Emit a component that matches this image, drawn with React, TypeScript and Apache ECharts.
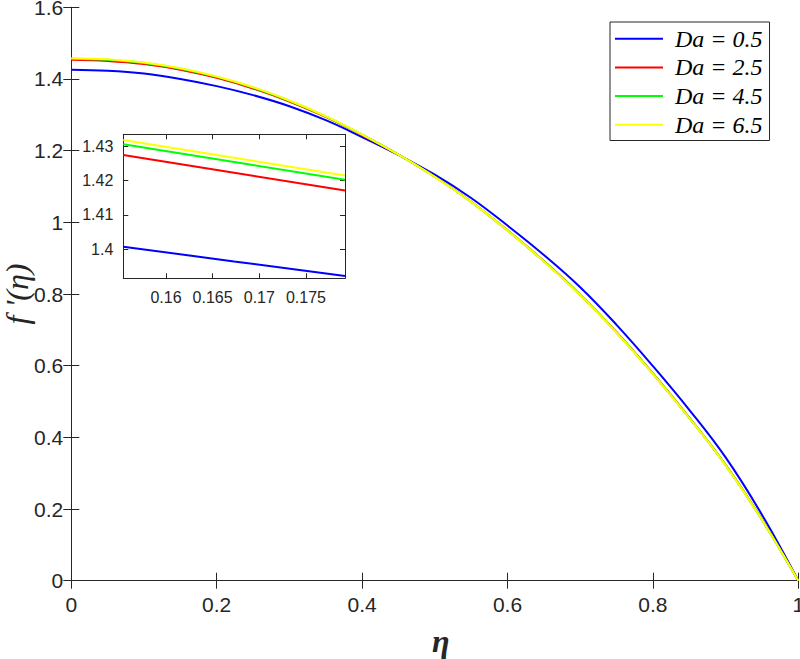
import React, { useEffect, useRef } from "react";
import * as echarts from "echarts";

const eta = [0, 0.05, 0.1, 0.15, 0.2, 0.25, 0.3, 0.35, 0.4, 0.45, 0.5, 0.55, 0.6, 0.65, 0.7, 0.75, 0.8, 0.85, 0.9, 0.95, 1];
const seriesNames = ["Da = 0.5", "Da = 2.5", "Da = 4.5", "Da = 6.5"];
const seriesColors = ["#0000ff", "#ff0000", "#00ff00", "#ffff00"];

const fDa05 = [1.426, 1.423, 1.415, 1.4, 1.38, 1.355, 1.324, 1.285, 1.238, 1.188, 1.133, 1.068, 0.991, 0.909, 0.819, 0.714, 0.599, 0.477, 0.344, 0.184, 0];
const fDa25 = [1.4535, 1.4505, 1.4417, 1.4259, 1.4032, 1.3736, 1.3372, 1.294, 1.2437, 1.1887, 1.1272, 1.0575, 0.9777, 0.8918, 0.798, 0.6932, 0.5782, 0.4552, 0.3231, 0.1707, 0];
const fDa45 = [1.4567, 1.4537, 1.4448, 1.4288, 1.4059, 1.3761, 1.3392, 1.2954, 1.2446, 1.189, 1.1271, 1.0572, 0.9773, 0.8914, 0.7975, 0.6926, 0.5776, 0.4546, 0.3225, 0.1703, 0];
const fDa65 = [1.458, 1.455, 1.446, 1.43, 1.407, 1.377, 1.34, 1.296, 1.245, 1.189, 1.127, 1.057, 0.977, 0.891, 0.797, 0.692, 0.577, 0.454, 0.322, 0.17, 0];

const insetEta = [0.15543, 0.1673, 0.17918];
const insetDa05 = [1.40077, 1.39651, 1.39226];
const insetDa25 = [1.42739, 1.42225, 1.4171];
const insetDa45 = [1.43048, 1.42534, 1.42019];
const insetDa65 = [1.43174, 1.4266, 1.42145];

const insetXTicks = [0.16, 0.165, 0.17, 0.175];
const insetYTicks = [1.4, 1.41, 1.42, 1.43];

const mainData = [fDa05, fDa25, fDa45, fDa65];
const insetData = [insetDa05, insetDa25, insetDa45, insetDa65];

const AX = "#262626";
const SANS = "'Liberation Sans', Arial, Helvetica, sans-serif";
const SERIF = "'Liberation Serif', 'Times New Roman', serif";

export default function App() {
  const ref = useRef<HTMLDivElement>(null);
  useEffect(() => {
    if (!ref.current) return;
    const chart = echarts.init(ref.current, null, { renderer: "svg" });
    const axisLine = { show: true, lineStyle: { color: AX, width: 1 } };
    const mainTick = { show: true, inside: true, length: 8, lineStyle: { color: AX, width: 1 } };
    const insetTick = { show: true, inside: true, length: 5, lineStyle: { color: AX, width: 1 } };
    const mainLabel = { color: AX, fontFamily: SANS, fontSize: 21 };
    const insetLabel = { color: AX, fontFamily: SANS, fontSize: 16 };

    const series: any[] = [];
    mainData.forEach((arr, i) => {
      series.push({
        name: seriesNames[i],
        type: "line",
        xAxisIndex: 0,
        yAxisIndex: 0,
        data: eta.map((x, k) => [x, arr[k]]),
        symbol: "none",
        smooth: 0.4,
        lineStyle: { color: seriesColors[i], width: 2 },
        itemStyle: { color: seriesColors[i] },
        z: 2 + i,
      });
    });
    insetData.forEach((arr, i) => {
      series.push({
        name: seriesNames[i],
        type: "line",
        xAxisIndex: 2,
        yAxisIndex: 2,
        data: insetEta.map((x, k) => [x, arr[k]]),
        symbol: "none",
        lineStyle: { color: seriesColors[i], width: 2 },
        itemStyle: { color: seriesColors[i] },
        z: 12 + i,
      });
    });

    chart.setOption({
      animation: false,
      backgroundColor: "#ffffff",
      grid: [
        {
          left: 71.3,
          top: 7.3,
          width: 727,
          height: 573.4,
          containLabel: false,
          outerBoundsMode: "none",
        },
        {
          left: 123.3,
          top: 134.3,
          width: 221.7,
          height: 144,
          show: true,
          backgroundColor: "#ffffff",
          borderWidth: 0,
          containLabel: false,
          outerBoundsMode: "none",
          z: 10,
        },
      ],
      legend: {
        data: seriesNames.map((n) => ({ name: n, icon: "rect" })),
        orient: "vertical",
        left: 610,
        top: 22,
        itemWidth: 48,
        itemHeight: 2,
        itemGap: 4.7,
        padding: [4.7, 7, 3.7, 5],
        borderColor: AX,
        borderWidth: 1,
        backgroundColor: "#ffffff",
        textStyle: {
          fontFamily: SERIF,
          fontStyle: "italic",
          fontSize: 24,
          lineHeight: 24,
          color: "#000000",
          padding: [0, 0, 0, 7],
        },
        z: 20,
      },
      xAxis: [
        {
          type: "value",
          gridIndex: 0,
          min: 0,
          max: 1,
          interval: 0.2,
          axisLine,
          axisTick: mainTick,
          axisLabel: { ...mainLabel, margin: 13 },
          splitLine: { show: false },
          name: "η",
          nameLocation: "middle",
          nameGap: 44,
          nameMoveOverlap: false,
          nameTextStyle: {
            fontFamily: SERIF,
            fontStyle: "italic",
            fontWeight: "bold",
            fontSize: 32,
            color: AX,
            padding: [0, 0, 0, 12],
          },
        },
        {
          type: "value",
          gridIndex: 0,
          position: "top",
          min: 0,
          max: 1,
          interval: 0.2,
          axisLine,
          axisTick: mainTick,
          axisLabel: { show: false },
          splitLine: { show: false },
        },
        {
          type: "value",
          gridIndex: 1,
          min: insetEta[0],
          max: insetEta[insetEta.length - 1],
          axisLine,
          axisTick: { ...insetTick, customValues: insetXTicks },
          axisLabel: { ...insetLabel, margin: 11, customValues: insetXTicks },
          splitLine: { show: false },
          z: 11,
        },
        {
          type: "value",
          gridIndex: 1,
          position: "top",
          min: insetEta[0],
          max: insetEta[insetEta.length - 1],
          axisLine,
          axisTick: { ...insetTick, customValues: insetXTicks },
          axisLabel: { show: false },
          splitLine: { show: false },
          z: 11,
        },
      ],
      yAxis: [
        {
          type: "value",
          gridIndex: 0,
          min: 0,
          max: 1.6,
          interval: 0.2,
          axisLine,
          axisTick: mainTick,
          axisLabel: { ...mainLabel, margin: 8, lineHeight: 15 },
          splitLine: { show: false },
          name: "f '(η)",
          nameLocation: "middle",
          nameRotate: 90,
          nameGap: 38,
          nameMoveOverlap: false,
          nameTextStyle: { fontFamily: SERIF, fontStyle: "italic", fontSize: 32, color: AX },
        },
        {
          type: "value",
          gridIndex: 0,
          position: "right",
          min: 0,
          max: 1.6,
          interval: 0.2,
          axisLine,
          axisTick: mainTick,
          axisLabel: { show: false },
          splitLine: { show: false },
        },
        {
          type: "value",
          gridIndex: 1,
          min: 1.3916,
          max: 1.4334,
          axisLine,
          axisTick: { ...insetTick, customValues: insetYTicks },
          axisLabel: { ...insetLabel, margin: 10, customValues: insetYTicks },
          splitLine: { show: false },
          z: 11,
        },
        {
          type: "value",
          gridIndex: 1,
          position: "right",
          min: 1.3916,
          max: 1.4334,
          axisLine,
          axisTick: { ...insetTick, customValues: insetYTicks },
          axisLabel: { show: false },
          splitLine: { show: false },
          z: 11,
        },
      ],
      series,
    });
    return () => chart.dispose();
  }, []);
  return (
    <div
      ref={ref}
      style={{ position: "fixed", left: 0, top: 0, width: 800, height: 659, background: "#fff" }}
    />
  );
}
